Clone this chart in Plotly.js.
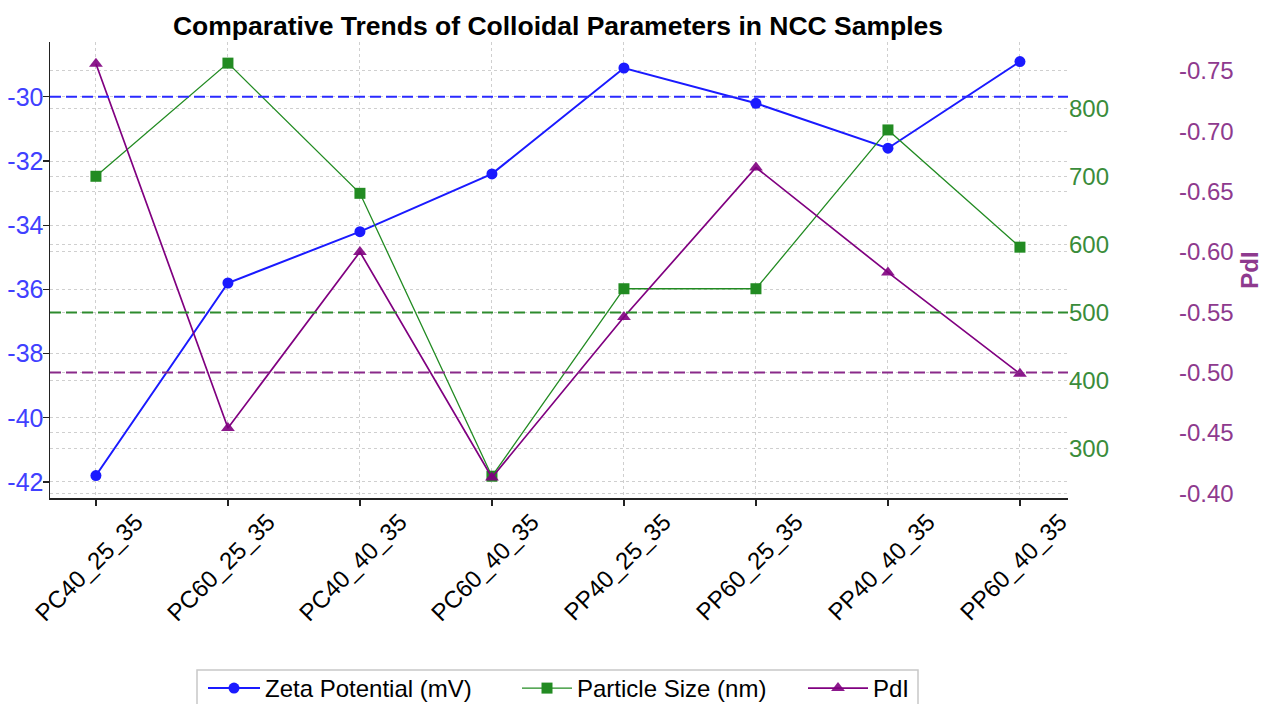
<!DOCTYPE html>
<html>
<head>
<meta charset="utf-8">
<script src="https://cdn.plot.ly/plotly-3.0.1.min.js"></script>
<style>html,body{margin:0;padding:0;background:#fff;}#chart{width:1263px;height:704px;}</style>
</head>
<body>
<div id="chart"></div>
<script>
const categories = ["PC40_25_35","PC60_25_35","PC40_40_35","PC60_40_35","PP40_25_35","PP60_25_35","PP40_40_35","PP60_40_35"];
const zetaPotential = [-41.8, -35.8, -34.2, -32.4, -29.1, -30.2, -31.6, -28.9];
const particleSize = [700, 866, 675, 260, 535, 535, 768, 596];
const pdi = [-0.756, -0.454, -0.600, -0.413, -0.546, -0.670, -0.583, -0.499];
const zetaThreshold = -30;
const sizeThreshold = 500;
const pdiThreshold = -0.5;
const zetaTicks = [-42, -40, -38, -36, -34, -32, -30];
const sizeTicks = [300, 400, 500, 600, 700, 800];
const pdiTicks = [-0.40, -0.45, -0.50, -0.55, -0.60, -0.65, -0.70, -0.75];

const FONT = "Liberation Sans, Arial, Helvetica, sans-serif";
const BLUE = "#1a1aff", BLUE_T = "#4040ff";
const GREEN = "#228B22", GREEN_T = "#3a8c3a";
const PURPLE = "#800080", PURPLE_T = "#8e3a8e";
const GRID = "#cfcfcf";

const W = 1263, H = 704, L = 50, R = 0, T = 42, B = 206;
const pw = W - L - R, ph = H - T - B;
const xEnd = (1068 - L) / pw;
const p3 = (1178 - L) / pw;
const px2paperX = p => (p - L) / pw;
const px2paperY = p => (H - B - p) / ph;

const traces = [
  {x: categories, y: zetaPotential, name: "Zeta Potential (mV)", type: "scatter", mode: "lines+markers",
   line: {color: BLUE, width: 2}, marker: {symbol: "circle", size: 11, color: BLUE}, yaxis: "y", legend: "legend"},
  {x: categories, y: particleSize, name: "Particle Size (nm)", type: "scatter", mode: "lines+markers",
   line: {color: GREEN, width: 1.3}, marker: {symbol: "square", size: 11, color: GREEN}, yaxis: "y2", legend: "legend2"},
  {x: categories, y: pdi, name: "PdI", type: "scatter", mode: "lines+markers",
   line: {color: PURPLE, width: 1.7}, marker: {symbol: "triangle-up", size: 12, color: PURPLE, opacity: 0.9}, yaxis: "y3", legend: "legend3"}
];

function legendAt(xpx, iw) {
  return {orientation: "h", xref: "container", x: xpx / W, xanchor: "left",
    yref: "container", y: 1 - 666 / H, yanchor: "top",
    bgcolor: "rgba(0,0,0,0)", borderwidth: 0,
    font: {family: FONT, size: 24, color: "#000"}, itemwidth: iw};
}

const gridStyle = {showgrid: true, gridcolor: GRID, griddash: "dot", gridwidth: 1, zeroline: false};

const layout = {
  width: W, height: H,
  paper_bgcolor: "#fff", plot_bgcolor: "#fff",
  margin: {l: L, r: R, t: T, b: B},
  font: {family: FONT, size: 24, color: "#000"},
  showlegend: true,
  title: {text: "<b>Comparative Trends of Colloidal Parameters in NCC Samples</b>",
    font: {family: FONT, size: 26.5, color: "#000"},
    xref: "container", x: 558 / W, xanchor: "center",
    yref: "container", y: 1 - 26 / H, yanchor: "middle"},
  xaxis: Object.assign({domain: [0, xEnd], type: "category", range: [-0.348, 7.364],
    showline: true, linecolor: "#222", linewidth: 1.5,
    ticks: "outside", ticklen: 6, tickcolor: "#222", tickwidth: 1.2,
    tickangle: -45, tickfont: {family: FONT, size: 24, color: "#000"},
    ticklabelshift: 40, ticklabelstandoff: -7}, gridStyle),
  yaxis: Object.assign({range: [-42.5, -28.29], tickvals: zetaTicks, ticktext: zetaTicks.map(v => String(v)),
    showline: true, linecolor: "#222", linewidth: 1.5,
    ticks: "outside", ticklen: 6, tickcolor: "#222", tickwidth: 1.2,
    ticklabelstandoff: -6,
    tickfont: {family: FONT, size: 25, color: BLUE_T}}, gridStyle),
  yaxis2: Object.assign({overlaying: "y", side: "right", anchor: "x", range: [228, 897], tickvals: sizeTicks,
    showline: false, ticks: "", tickfont: {family: FONT, size: 24, color: GREEN_T}}, gridStyle),
  yaxis3: Object.assign({overlaying: "y", side: "right", anchor: "free", position: p3, range: [-0.396, -0.774],
    tickvals: pdiTicks, ticktext: pdiTicks.map(v => v.toFixed(2)),
    showline: false, ticks: "", tickfont: {family: FONT, size: 24, color: PURPLE_T},
    title: {text: "<b>PdI</b>", font: {family: FONT, size: 24, color: PURPLE_T}, standoff: 18}}, gridStyle),
  shapes: [
    {type: "line", xref: "x domain", x0: 0, x1: 1, yref: "y", y0: zetaThreshold, y1: zetaThreshold,
     line: {color: "#2a2aff", width: 2, dash: "11px,5px"}},
    {type: "line", xref: "x domain", x0: 0, x1: 1, yref: "y2", y0: sizeThreshold, y1: sizeThreshold,
     line: {color: "#2e8b2e", width: 2, dash: "11px,5px"}},
    {type: "line", xref: "x domain", x0: 0, x1: 1, yref: "y3", y0: pdiThreshold, y1: pdiThreshold,
     line: {color: "#8a2a8a", width: 2, dash: "11px,5px"}},
    {type: "rect", xref: "paper", yref: "paper", layer: "below",
     x0: px2paperX(197), x1: px2paperX(918), y0: px2paperY(670), y1: px2paperY(716),
     line: {color: "#c8c8c8", width: 1.5}, fillcolor: "#fff"}
  ],
  legend: legendAt(203, 52),
  legend2: legendAt(517, 50),
  legend3: legendAt(803, 60)
};

Plotly.newPlot("chart", traces, layout, {displayModeBar: false, staticPlot: true});
</script>
</body>
</html>
